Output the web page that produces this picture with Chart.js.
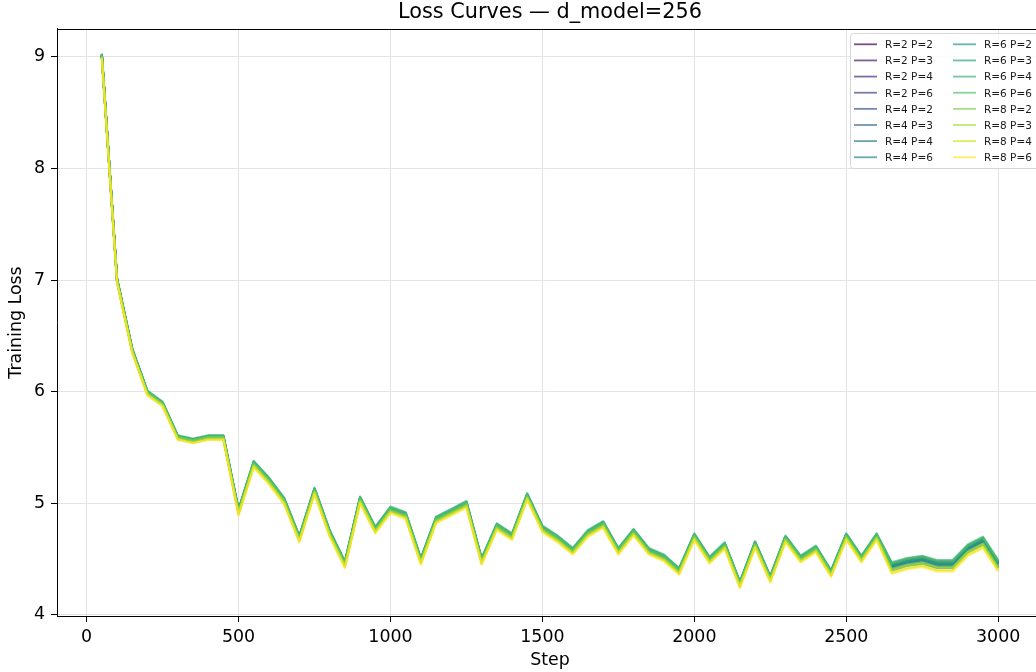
<!DOCTYPE html>
<html>
<head>
<meta charset="utf-8">
<script src="https://cdn.jsdelivr.net/npm/chart.js@4"></script>
<style>
  html, body { margin: 0; padding: 0; background: #fff; overflow: hidden; }
  #wrap { width: 1060px; height: 672px; position: relative; }
</style>
</head>
<body>
<div id="wrap"><canvas id="lossChart"></canvas></div>
<script>
const steps = [50, 100, 150, 200, 250, 300, 350, 400, 450, 500, 550, 600, 650, 700, 750, 800, 850, 900, 950, 1000,
  1050, 1100, 1150, 1200, 1250, 1300, 1350, 1400, 1450, 1500, 1550, 1600, 1650, 1700, 1750, 1800, 1850, 1900, 1950, 2000,
  2050, 2100, 2150, 2200, 2250, 2300, 2350, 2400, 2450, 2500, 2550, 2600, 2650, 2700, 2750, 2800, 2850, 2900, 2950, 3000];

const xTicks = [0, 500, 1000, 1500, 2000, 2500, 3000];
const yTicks = [4, 5, 6, 7, 8, 9];

const R2_P2 = [9.02, 7.01, 6.38, 6.00, 5.90, 5.60, 5.57, 5.60, 5.60,
  4.94, 5.37, 5.22, 5.04, 4.70, 5.13, 4.75, 4.47, 5.05, 4.78, 4.96, 4.91, 4.50, 4.87, 4.94, 5.01, 4.50, 4.81, 4.72, 5.08, 4.79, 4.70, 4.59, 4.75, 4.83, 4.59, 4.76, 4.59, 4.53, 4.41, 4.72, 4.51, 4.64, 4.29, 4.65, 4.34, 4.70, 4.52, 4.61, 4.39, 4.72, 4.52, 4.72,
  4.46, 4.50, 4.52, 4.48, 4.48, 4.62, 4.69, 4.48];
const R2_P3 = [9.02, 7.01, 6.38, 6.00, 5.90, 5.60, 5.57, 5.60, 5.60,
  4.93, 5.36, 5.21, 5.03, 4.69, 5.12, 4.74, 4.46, 5.04, 4.77, 4.95, 4.90, 4.49, 4.86, 4.93, 5.00, 4.49, 4.80, 4.71, 5.07, 4.78, 4.69, 4.58, 4.74, 4.82, 4.58, 4.75, 4.58, 4.52, 4.40, 4.71, 4.50, 4.63, 4.28, 4.64, 4.33, 4.69, 4.51, 4.60, 4.38, 4.71, 4.51, 4.71,
  4.45, 4.49, 4.51, 4.47, 4.47, 4.61, 4.68, 4.47];
const R2_P4 = [9.01, 7.00, 6.37, 5.99, 5.89, 5.59, 5.56, 5.59, 5.59,
  4.93, 5.36, 5.21, 5.03, 4.69, 5.12, 4.74, 4.46, 5.04, 4.77, 4.95, 4.90, 4.49, 4.86, 4.93, 5.00, 4.49, 4.80, 4.71, 5.07, 4.78, 4.69, 4.58, 4.74, 4.82, 4.58, 4.75, 4.58, 4.52, 4.40, 4.71, 4.50, 4.63, 4.28, 4.64, 4.33, 4.69, 4.51, 4.60, 4.38, 4.71, 4.51, 4.71,
  4.44, 4.48, 4.50, 4.46, 4.46, 4.60, 4.67, 4.46];
const R2_P6 = [9.01, 7.00, 6.37, 5.99, 5.89, 5.59, 5.56, 5.59, 5.59,
  4.91, 5.34, 5.19, 5.01, 4.67, 5.10, 4.72, 4.44, 5.02, 4.75, 4.93, 4.88, 4.47, 4.84, 4.91, 4.98, 4.47, 4.78, 4.69, 5.05, 4.76, 4.67, 4.56, 4.72, 4.80, 4.56, 4.73, 4.56, 4.50, 4.38, 4.69, 4.48, 4.61, 4.26, 4.62, 4.31, 4.67, 4.49, 4.58, 4.36, 4.69, 4.49, 4.69,
  4.40, 4.44, 4.46, 4.42, 4.42, 4.56, 4.63, 4.42];
const R4_P2 = [9.02, 7.01, 6.38, 6.00, 5.90, 5.60, 5.57, 5.60, 5.60,
  4.94, 5.37, 5.22, 5.04, 4.70, 5.13, 4.75, 4.47, 5.05, 4.78, 4.96, 4.91, 4.50, 4.87, 4.94, 5.01, 4.50, 4.81, 4.72, 5.08, 4.79, 4.70, 4.59, 4.75, 4.83, 4.59, 4.76, 4.59, 4.53, 4.41, 4.72, 4.51, 4.64, 4.29, 4.65, 4.34, 4.70, 4.52, 4.61, 4.39, 4.72, 4.52, 4.72,
  4.44, 4.48, 4.50, 4.46, 4.46, 4.60, 4.67, 4.46];
const R4_P3 = [9.01, 7.00, 6.37, 5.99, 5.89, 5.59, 5.56, 5.59, 5.59,
  4.93, 5.36, 5.21, 5.03, 4.69, 5.12, 4.74, 4.46, 5.04, 4.77, 4.95, 4.90, 4.49, 4.86, 4.93, 5.00, 4.49, 4.80, 4.71, 5.07, 4.78, 4.69, 4.58, 4.74, 4.82, 4.58, 4.75, 4.58, 4.52, 4.40, 4.71, 4.50, 4.63, 4.28, 4.64, 4.33, 4.69, 4.51, 4.60, 4.38, 4.71, 4.51, 4.71,
  4.43, 4.47, 4.49, 4.45, 4.45, 4.59, 4.66, 4.45];
const R4_P4 = [9.01, 7.00, 6.37, 5.99, 5.89, 5.59, 5.56, 5.59, 5.59,
  4.92, 5.35, 5.20, 5.02, 4.68, 5.11, 4.73, 4.45, 5.03, 4.76, 4.94, 4.89, 4.48, 4.85, 4.92, 4.99, 4.48, 4.79, 4.70, 5.06, 4.77, 4.68, 4.57, 4.73, 4.81, 4.57, 4.74, 4.57, 4.51, 4.39, 4.70, 4.49, 4.62, 4.27, 4.63, 4.32, 4.68, 4.50, 4.59, 4.37, 4.70, 4.50, 4.70,
  4.42, 4.46, 4.48, 4.44, 4.44, 4.58, 4.65, 4.44];
const R4_P6 = [9.00, 6.99, 6.36, 5.98, 5.88, 5.58, 5.55, 5.58, 5.58,
  4.92, 5.35, 5.20, 5.02, 4.68, 5.11, 4.73, 4.45, 5.03, 4.76, 4.94, 4.89, 4.48, 4.85, 4.92, 4.99, 4.48, 4.79, 4.70, 5.06, 4.77, 4.68, 4.57, 4.73, 4.81, 4.57, 4.74, 4.57, 4.51, 4.39, 4.70, 4.49, 4.62, 4.27, 4.63, 4.32, 4.68, 4.50, 4.59, 4.37, 4.70, 4.50, 4.70,
  4.41, 4.45, 4.47, 4.43, 4.43, 4.57, 4.64, 4.43];
const R6_P2 = [9.02, 7.01, 6.38, 6.00, 5.90, 5.60, 5.57, 5.60, 5.60,
  4.94, 5.37, 5.22, 5.04, 4.70, 5.13, 4.75, 4.47, 5.05, 4.78, 4.96, 4.91, 4.50, 4.87, 4.94, 5.01, 4.50, 4.81, 4.72, 5.08, 4.79, 4.70, 4.59, 4.75, 4.83, 4.59, 4.76, 4.59, 4.53, 4.41, 4.72, 4.51, 4.64, 4.29, 4.65, 4.34, 4.70, 4.52, 4.61, 4.39, 4.72, 4.52, 4.72,
  4.45, 4.49, 4.51, 4.47, 4.47, 4.61, 4.68, 4.47];
const R6_P3 = [9.02, 7.01, 6.38, 6.00, 5.90, 5.60, 5.57, 5.60, 5.60,
  4.93, 5.36, 5.21, 5.03, 4.69, 5.12, 4.74, 4.46, 5.04, 4.77, 4.95, 4.90, 4.49, 4.86, 4.93, 5.00, 4.49, 4.80, 4.71, 5.07, 4.78, 4.69, 4.58, 4.74, 4.82, 4.58, 4.75, 4.58, 4.52, 4.40, 4.71, 4.50, 4.63, 4.28, 4.64, 4.33, 4.69, 4.51, 4.60, 4.38, 4.71, 4.51, 4.71,
  4.44, 4.48, 4.50, 4.46, 4.46, 4.60, 4.67, 4.46];
const R6_P4 = [9.03, 7.02, 6.39, 6.01, 5.91, 5.61, 5.58, 5.61, 5.61,
  4.95, 5.38, 5.23, 5.05, 4.71, 5.14, 4.76, 4.48, 5.06, 4.79, 4.97, 4.92, 4.51, 4.88, 4.95, 5.02, 4.51, 4.82, 4.73, 5.09, 4.80, 4.71, 4.60, 4.76, 4.84, 4.60, 4.77, 4.60, 4.54, 4.42, 4.73, 4.52, 4.65, 4.30, 4.66, 4.35, 4.71, 4.53, 4.62, 4.40, 4.73, 4.53, 4.73,
  4.47, 4.51, 4.53, 4.49, 4.49, 4.63, 4.70, 4.49];
const R6_P6 = [9.02, 7.01, 6.38, 6.00, 5.90, 5.60, 5.57, 5.60, 5.60,
  4.94, 5.37, 5.22, 5.04, 4.70, 5.13, 4.75, 4.47, 5.05, 4.78, 4.96, 4.91, 4.50, 4.87, 4.94, 5.01, 4.50, 4.81, 4.72, 5.08, 4.79, 4.70, 4.59, 4.75, 4.83, 4.59, 4.76, 4.59, 4.53, 4.41, 4.72, 4.51, 4.64, 4.29, 4.65, 4.34, 4.70, 4.52, 4.61, 4.39, 4.72, 4.52, 4.72,
  4.46, 4.50, 4.52, 4.48, 4.48, 4.62, 4.69, 4.48];
const R8_P2 = [9.01, 7.00, 6.37, 5.99, 5.89, 5.59, 5.56, 5.59, 5.59,
  4.92, 5.35, 5.20, 5.02, 4.68, 5.11, 4.73, 4.45, 5.03, 4.76, 4.94, 4.89, 4.48, 4.85, 4.92, 4.99, 4.48, 4.79, 4.70, 5.06, 4.77, 4.68, 4.57, 4.73, 4.81, 4.57, 4.74, 4.57, 4.51, 4.39, 4.70, 4.49, 4.62, 4.27, 4.63, 4.32, 4.68, 4.50, 4.59, 4.37, 4.70, 4.50, 4.70,
  4.41, 4.45, 4.47, 4.43, 4.43, 4.57, 4.64, 4.43];
const R8_P3 = [9.00, 6.99, 6.36, 5.98, 5.88, 5.58, 5.55, 5.58, 5.58,
  4.91, 5.34, 5.19, 5.01, 4.67, 5.10, 4.72, 4.44, 5.02, 4.75, 4.93, 4.88, 4.47, 4.84, 4.91, 4.98, 4.47, 4.78, 4.69, 5.05, 4.76, 4.67, 4.56, 4.72, 4.80, 4.56, 4.73, 4.56, 4.50, 4.38, 4.69, 4.48, 4.61, 4.26, 4.62, 4.31, 4.67, 4.49, 4.58, 4.36, 4.69, 4.49, 4.69,
  4.40, 4.44, 4.46, 4.42, 4.42, 4.56, 4.63, 4.42];
const R8_P4 = [8.99, 6.98, 6.35, 5.97, 5.87, 5.57, 5.54, 5.57, 5.57,
  4.90, 5.33, 5.18, 5.00, 4.66, 5.09, 4.71, 4.43, 5.01, 4.74, 4.92, 4.87, 4.46, 4.83, 4.90, 4.97, 4.46, 4.77, 4.68, 5.04, 4.75, 4.66, 4.55, 4.71, 4.79, 4.55, 4.72, 4.55, 4.49, 4.37, 4.68, 4.47, 4.60, 4.25, 4.61, 4.30, 4.66, 4.48, 4.57, 4.35, 4.68, 4.48, 4.68,
  4.38, 4.42, 4.44, 4.40, 4.40, 4.54, 4.61, 4.40];
const R8_P6 = [8.99, 6.98, 6.35, 5.97, 5.87, 5.57, 5.54, 5.57, 5.57,
  4.89, 5.32, 5.17, 4.99, 4.65, 5.08, 4.70, 4.42, 5.00, 4.73, 4.91, 4.86, 4.45, 4.82, 4.89, 4.96, 4.45, 4.76, 4.67, 5.03, 4.74, 4.65, 4.54, 4.70, 4.78, 4.54, 4.71, 4.54, 4.48, 4.36, 4.67, 4.46, 4.59, 4.24, 4.60, 4.29, 4.65, 4.47, 4.56, 4.34, 4.67, 4.47, 4.67,
  4.37, 4.41, 4.43, 4.39, 4.39, 4.53, 4.60, 4.39];

const seriesLabels = ['R=2 P=2', 'R=2 P=3', 'R=2 P=4', 'R=2 P=6', 'R=4 P=2', 'R=4 P=3', 'R=4 P=4', 'R=4 P=6',
  'R=6 P=2', 'R=6 P=3', 'R=6 P=4', 'R=6 P=6', 'R=8 P=2', 'R=8 P=3', 'R=8 P=4', 'R=8 P=6'];
const seriesValues = [R2_P2, R2_P3, R2_P4, R2_P6, R4_P2, R4_P3, R4_P4, R4_P6,
  R6_P2, R6_P3, R6_P4, R6_P6, R8_P2, R8_P3, R8_P4, R8_P6];

// viridis, 16 steps
const palette = ['#440154', '#481a6c', '#472f7d', '#414487', '#39568c', '#31688e', '#2a788e', '#23888e',
  '#1f988b', '#22a884', '#35b779', '#54c568', '#7ad151', '#a5db36', '#d2e21b', '#fde725'];

const withAlpha = (hex, a) => {
  const n = parseInt(hex.slice(1), 16);
  return 'rgba(' + (n >> 16) + ',' + ((n >> 8) & 255) + ',' + (n & 255) + ',' + a + ')';
};

const FONT = 'DejaVu Sans';
Chart.defaults.font.family = FONT;
Chart.defaults.color = '#000';

const datasets = seriesValues.map((vals, i) => ({
  label: seriesLabels[i],
  data: steps.map((s, j) => ({ x: s, y: vals[j] })),
  borderColor: withAlpha(palette[i], 0.7),
  borderWidth: 2.2,
  borderJoinStyle: 'round',
  pointRadius: 0,
  tension: 0,
  fill: false,
  order: -i   // later series drawn on top, like matplotlib
}));

// top/right spines (matplotlib draws a full box)
const frameBox = {
  id: 'frameBox',
  afterDraw(chart) {
    const { ctx, chartArea: a } = chart;
    ctx.save();
    ctx.strokeStyle = '#000';
    ctx.lineWidth = 1;
    ctx.beginPath();
    ctx.moveTo(a.left, Math.round(a.top) + 0.5);
    ctx.lineTo(a.right, Math.round(a.top) + 0.5);
    ctx.moveTo(Math.round(a.right) - 0.5, a.top);
    ctx.lineTo(Math.round(a.right) - 0.5, a.bottom);
    ctx.stroke();
    ctx.restore();
  }
};

// two-column legend in the upper right, filled column by column
const mplLegend = {
  id: 'mplLegend',
  afterDatasetsDraw(chart, args, opts) {
    const ctx = chart.ctx;
    const ds = chart.data.datasets;
    ctx.save();
    ctx.beginPath();
    ctx.roundRect(opts.x, opts.y, opts.w, opts.h, 3);
    ctx.fillStyle = 'rgba(255,255,255,0.8)';
    ctx.fill();
    ctx.strokeStyle = '#d6d6d6';
    ctx.lineWidth = 1;
    ctx.stroke();
    ctx.font = opts.fontSize + 'px "' + FONT + '"';
    ctx.textBaseline = 'alphabetic';
    ds.forEach((d, i) => {
      const col = Math.floor(i / opts.rows);
      const row = i % opts.rows;
      const x = opts.colX[col];
      const y = opts.firstRowY + row * opts.rowGap;
      ctx.strokeStyle = d.borderColor;
      ctx.lineWidth = opts.handleWidth;
      ctx.beginPath();
      ctx.moveTo(x, y);
      ctx.lineTo(x + opts.handleLen, y);
      ctx.stroke();
      ctx.fillStyle = '#1a1a1a';
      ctx.fillText(d.label, x + opts.handleLen + opts.textGap, y + 3.8);
    });
    ctx.restore();
  }
};

const tickFont = { family: FONT, size: 17.4 };
const fixedTicks = list => scale => { scale.ticks = list.map(v => ({ value: v })); };

new Chart(document.getElementById('lossChart'), {
  type: 'line',
  data: { datasets: datasets },
  plugins: [frameBox, mplLegend],
  options: {
    responsive: true,
    maintainAspectRatio: false,
    animation: false,
    layout: { padding: { left: 0, right: 17, top: 0, bottom: 0 } },
    scales: {
      x: {
        type: 'linear',
        min: -97.5,
        max: 3147.5,
        afterBuildTicks: fixedTicks(xTicks),
        ticks: { autoSkip: false, maxRotation: 0, padding: 5, color: '#000', font: tickFont,
          callback: v => String(v) },
        grid: { color: '#e3e3e3', lineWidth: 1, tickColor: '#000', tickLength: 6, tickWidth: 1 },
        border: { color: '#000', width: 1 },
        title: { display: true, text: 'Step', color: '#000', font: tickFont, padding: { top: 0, bottom: 1 } },
        afterFit: s => { s.height = 56; }
      },
      y: {
        type: 'linear',
        min: 3.99,
        max: 9.25,
        afterBuildTicks: fixedTicks(yTicks),
        ticks: { autoSkip: false, padding: 6, color: '#000', font: tickFont, callback: v => String(v) },
        grid: { color: '#e3e3e3', lineWidth: 1, tickColor: '#000', tickLength: 6, tickWidth: 1 },
        border: { color: '#000', width: 1 },
        title: { display: true, text: 'Training Loss', color: '#000', font: tickFont, padding: { top: 6.5, bottom: 0 } },
        afterFit: s => { s.width = 57; }
      }
    },
    plugins: {
      legend: { display: false },
      tooltip: { enabled: false },
      title: {
        display: true,
        text: 'Loss Curves — d_model=256',
        fullSize: false,
        color: '#000',
        font: { family: FONT, size: 20.8, weight: 'normal' },
        padding: { top: 0.5, bottom: 3.5 }
      },
      mplLegend: {
        x: 850.5, y: 33.5, w: 200, h: 135,
        rows: 8, colX: [854, 953], firstRowY: 44.3, rowGap: 16.14,
        handleLen: 23, handleWidth: 1.8, textGap: 8, fontSize: 10.5
      }
    }
  }
});
</script>
</body>
</html>
